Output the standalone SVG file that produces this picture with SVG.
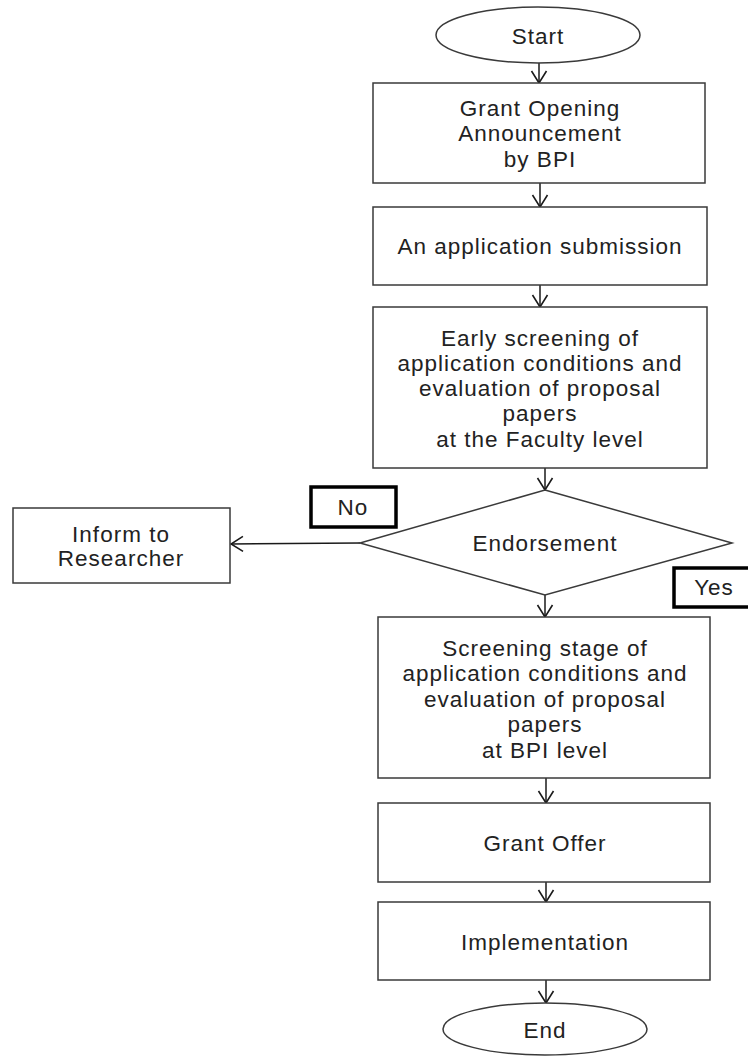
<svg xmlns="http://www.w3.org/2000/svg" width="748" height="1056" viewBox="0 0 748 1056">
<defs>
<style>
.box{fill:#fff;stroke:#3a3a3a;stroke-width:1.5}
.lbl{fill:#fff;stroke:#000;stroke-width:3.5}
.t{font-family:"Liberation Sans",Arial,sans-serif;font-size:22.5px;letter-spacing:1px;fill:#222;text-anchor:middle;dominant-baseline:central}
.c{fill:none;stroke:#1a1a1a;stroke-width:1.5}
</style>
<marker id="ah" viewBox="0 0 14 18" refX="13" refY="9" markerWidth="14" markerHeight="18" markerUnits="userSpaceOnUse" orient="auto">
<path d="M1,1.5 L13,9 L1,16.5" fill="none" stroke="#1a1a1a" stroke-width="1.6"/>
</marker>
</defs>
<rect width="748" height="1056" fill="#fff"/>
<g id="connectors">
<line class="c" x1="539" y1="63" x2="539" y2="83" marker-end="url(#ah)"/>
<line class="c" x1="540" y1="183" x2="540" y2="207" marker-end="url(#ah)"/>
<line class="c" x1="540" y1="285" x2="540" y2="307" marker-end="url(#ah)"/>
<line class="c" x1="545" y1="468" x2="545" y2="490" marker-end="url(#ah)"/>
<line class="c" x1="360" y1="543" x2="231" y2="544" marker-end="url(#ah)"/>
<line class="c" x1="545" y1="595" x2="545" y2="617" marker-end="url(#ah)"/>
<line class="c" x1="546" y1="778" x2="546" y2="803" marker-end="url(#ah)"/>
<line class="c" x1="546" y1="882" x2="546" y2="902" marker-end="url(#ah)"/>
<line class="c" x1="546" y1="980" x2="546" y2="1003" marker-end="url(#ah)"/>
</g>
<g id="start">
<ellipse class="box" cx="538" cy="35" rx="102" ry="28"/>
<text class="t" x="538" y="36">Start</text>
</g>
<g id="announcement">
<rect class="box" x="373" y="83" width="332" height="100"/>
<text class="t" x="540" y="108">Grant Opening</text>
<text class="t" x="540" y="133">Announcement</text>
<text class="t" x="540" y="159">by BPI</text>
</g>
<g id="submission">
<rect class="box" x="373" y="207" width="334" height="78"/>
<text class="t" x="540" y="246">An application submission</text>
</g>
<g id="early-screening">
<rect class="box" x="373" y="307" width="334" height="161"/>
<text class="t" x="540" y="338">Early screening of</text>
<text class="t" x="540" y="363">application conditions and</text>
<text class="t" x="540" y="388">evaluation of proposal</text>
<text class="t" x="540" y="413">papers</text>
<text class="t" x="540" y="439">at the Faculty level</text>
</g>
<g id="endorsement">
<polygon class="box" points="545,490 732,543 545,595 360,543"/>
<text class="t" x="545" y="543">Endorsement</text>
</g>
<g id="no-label">
<rect class="lbl" x="311" y="487" width="85" height="40"/>
<text class="t" x="353" y="507">No</text>
</g>
<g id="yes-label">
<rect class="lbl" x="674" y="568" width="76" height="39"/>
<text class="t" x="714" y="587">Yes</text>
</g>
<g id="inform">
<rect class="box" x="13" y="508" width="217" height="75"/>
<text class="t" x="121" y="534">Inform to</text>
<text class="t" x="121" y="558">Researcher</text>
</g>
<g id="bpi-screening">
<rect class="box" x="378" y="617" width="332" height="161"/>
<text class="t" x="545" y="648">Screening stage of</text>
<text class="t" x="545" y="673">application conditions and</text>
<text class="t" x="545" y="699">evaluation of proposal</text>
<text class="t" x="545" y="724">papers</text>
<text class="t" x="545" y="750">at BPI level</text>
</g>
<g id="grant-offer">
<rect class="box" x="378" y="803" width="332" height="79"/>
<text class="t" x="545" y="843">Grant Offer</text>
</g>
<g id="implementation">
<rect class="box" x="378" y="902" width="332" height="78"/>
<text class="t" x="545" y="942">Implementation</text>
</g>
<g id="end">
<ellipse class="box" cx="545" cy="1029" rx="102" ry="26"/>
<text class="t" x="545" y="1030">End</text>
</g>
</svg>
